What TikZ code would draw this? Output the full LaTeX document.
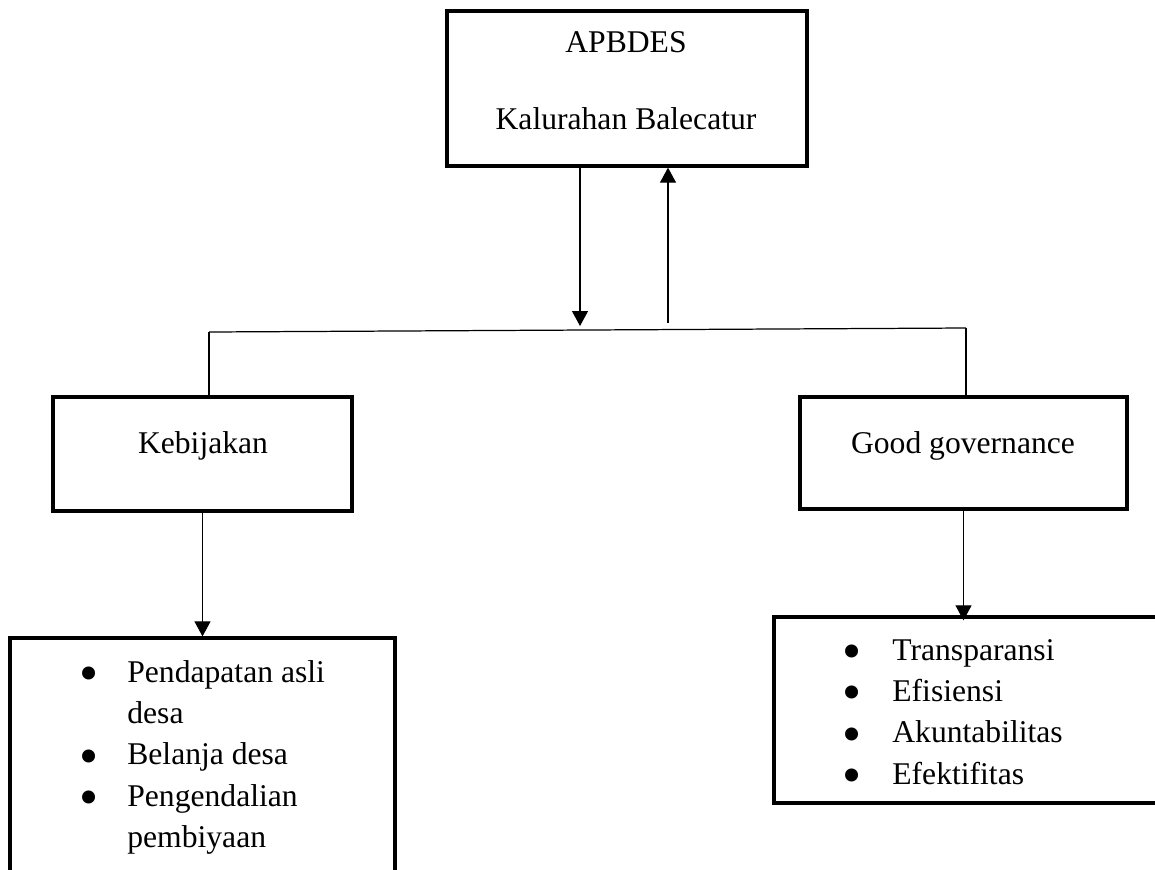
\documentclass[tikz,border=0pt]{standalone}
\usepackage{fontspec}
\setmainfont{Liberation Serif}
\usepackage{tikz}
\usetikzlibrary{arrows.meta,positioning,calc}
\tikzset{
  >={Triangle[length=0.3cm,width=0.32cm]},
  abox/.style={draw=black, line width=1.9pt, inner sep=0pt},
  aline/.style={black, line width=0.7pt},
  aarr/.style={->, black, line width=0.7pt},
  atxt/.style={font=\fontsize{18}{23.6}\selectfont, inner sep=0pt},
}
\newcommand{\abul}{\smash{\raisebox{-0.19cm}{\fontsize{31}{31}\selectfont\textbullet}}}

\begin{document}
\begin{tikzpicture}[x=0.02cm, y=-0.02cm]
  \useasboundingbox (0,0) rectangle (1155,869);

  % kotak atas
  \node[abox, minimum width=7.2cm, minimum height=3.1cm] (apbdes) at (627,88.5) {};
  \node[atxt, anchor=base] (apbdesA) at (626,52) {APBDES};
  \node[atxt, anchor=base] (apbdesB) at (626,129) {Kalurahan Balecatur};

  % kotak tengah
  \node[abox, minimum width=5.98cm, minimum height=2.28cm] (kebijakan) at (202.5,454) {};
  \node[atxt, anchor=base] (kebijakanT) at (203,453) {Kebijakan};
  \node[abox, minimum width=6.54cm, minimum height=2.24cm] (gg) at (963.5,453) {};
  \node[atxt, anchor=base] (ggT) at (963,453) {Good governance};

  % kotak bawah
  \node[abox, minimum width=7.7cm, minimum height=5.24cm] (pendapatan) at (202.5,769) {};
  \node[atxt, anchor=base west] (pendapatanT) at (79,682) {%
    \begin{tabular}[t]{@{}p{0.96cm}@{}l@{}}
      \abul & Pendapatan asli\\
            & desa\\
      \abul & Belanja desa\\
      \abul & Pengendalian\\
            & pembiyaan
    \end{tabular}};
  \node[abox, minimum width=7.68cm, minimum height=3.72cm] (tata) at (966,710) {};
  \node[atxt, anchor=base west] (tataT) at (842,660) {%
    \begin{tabular}[t]{@{}p{1cm}@{}l@{}}
      \abul & Transparansi\\
      \abul & Efisiensi\\
      \abul & Akuntabilitas\\
      \abul & Efektifitas
    \end{tabular}};

  % garis
  \coordinate (busL) at (209,332);
  \coordinate (busR) at (966,328);
  \coordinate (turun) at (580,326);
  \coordinate (naik) at (668,323);
  \draw[aarr] (apbdes.south -| turun) -- (turun);
  \draw[aarr] (naik) -- (naik |- apbdes.south);
  \draw[aline] (busL) -- (busR);
  \draw[aline] (busL) -- (busL |- kebijakan.north);
  \draw[aline] (busR) -- (busR |- gg.north);
  \draw[aarr] (kebijakan.south) -- (kebijakan.south |- pendapatan.north);
  \draw[aarr, shorten >=-0.1cm] (gg.south) -- (gg.south |- tata.north);

\end{tikzpicture}
\end{document}
